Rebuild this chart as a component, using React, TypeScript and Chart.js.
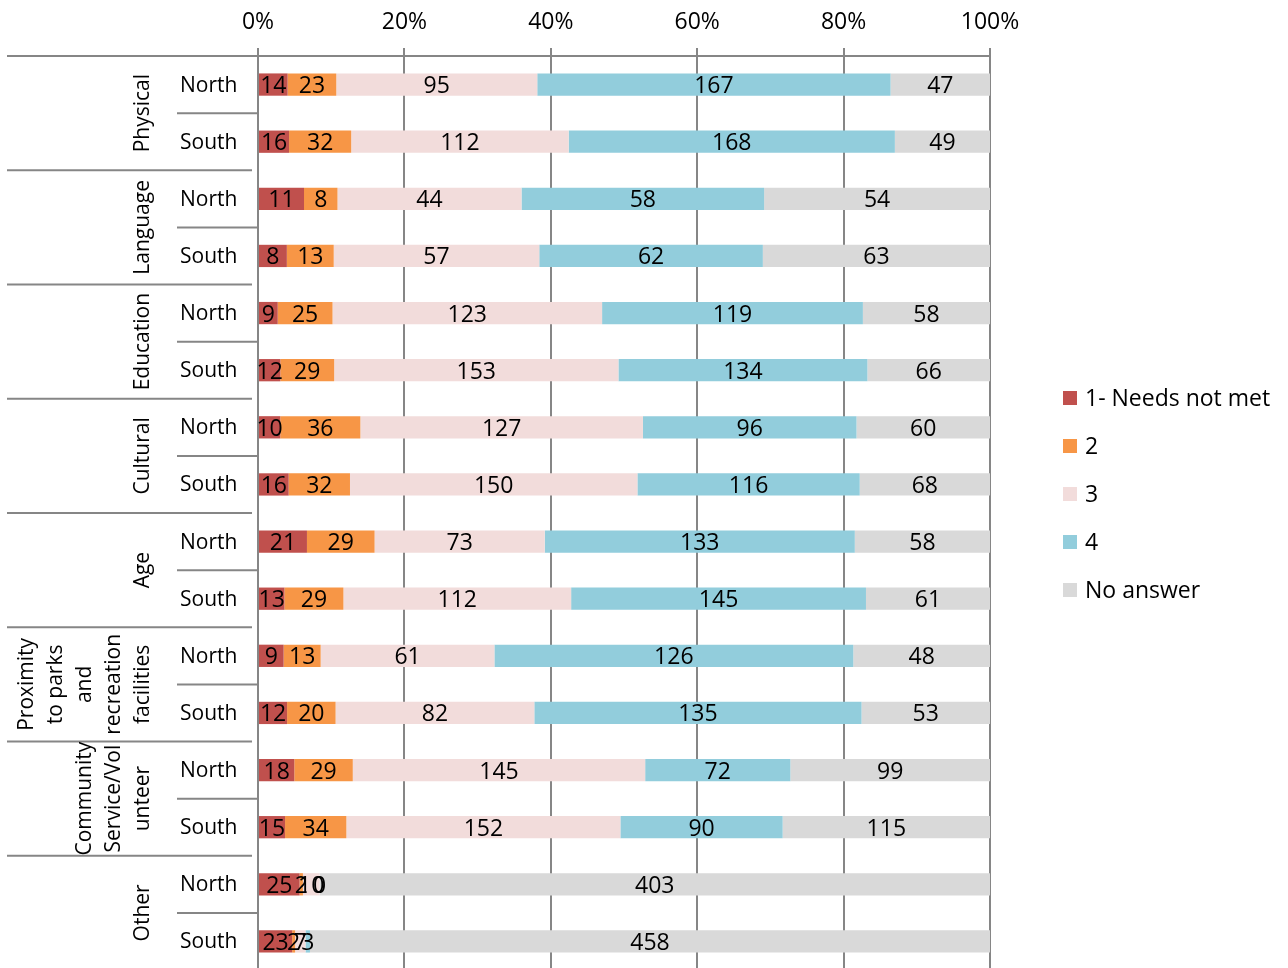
import React, { useEffect, useRef } from "react";
import { Chart, registerables } from "chart.js";

Chart.register(...registerables);

const groupLines: string[][] = [
  ["Physical"],
  ["Language"],
  ["Education"],
  ["Cultural"],
  ["Age"],
  ["Proximity", "to parks", "and", "recreation", "facilities"],
  ["Community", "Service/Vol", "unteer"],
  ["Other"],
];
const regions = ["North", "South"];
const seriesNames = ["1- Needs not met", "2", "3", "4", "No answer"];
const seriesColors = ["#C0504D", "#F79646", "#F2DCDB", "#92CDDC", "#D9D9D9"];

const needsNotMet = [14, 16, 11, 8, 9, 12, 10, 16, 21, 13, 9, 12, 18, 15, 25, 23];
const level2 = [23, 32, 8, 13, 25, 29, 36, 32, 29, 29, 13, 20, 29, 34, 2, 2];
const level3 = [95, 112, 44, 57, 123, 153, 127, 150, 73, 112, 61, 82, 145, 152, 10, 7];
const level4 = [167, 168, 58, 62, 119, 134, 96, 116, 133, 145, 126, 135, 72, 90, 0, 3];
const noAnswer = [47, 49, 54, 63, 58, 66, 60, 68, 58, 61, 48, 53, 99, 115, 403, 458];

const xTickValues = [0, 20, 40, 60, 80, 100];

const FONT = "'Open Sans', sans-serif";
const LINE = "#868686";

export default function App() {
  const ref = useRef<HTMLCanvasElement | null>(null);

  useEffect(() => {
    const canvas = ref.current;
    if (!canvas) return;
    const raw = [needsNotMet, level2, level3, level4, noAnswer];
    const totals = needsNotMet.map((_, i) => raw.reduce((s, arr) => s + arr[i], 0));
    const rowLabels: string[] = [];
    groupLines.forEach((g) => regions.forEach((r) => rowLabels.push(g.join(" ") + " " + r)));

    const labelsPlugin = {
      id: "customLabels",
      afterDatasetsDraw(chart: any) {
        const ctx = chart.ctx;
        ctx.save();
        ctx.fillStyle = "#000";
        ctx.font = `23px ${FONT}`;
        ctx.textAlign = "center";
        ctx.textBaseline = "middle";
        chart.data.datasets.forEach((ds: any, i: number) => {
          const meta = chart.getDatasetMeta(i);
          meta.data.forEach((bar: any, j: number) => {
            const p = bar.getProps(["x", "y", "base"], true);
            ctx.fillText(String(raw[i][j]), (p.x + p.base) / 2, p.y + 2);
          });
        });
        ctx.restore();
      },
      afterDraw(chart: any) {
        const ctx = chart.ctx;
        const y = chart.scales.y;
        const left = chart.chartArea.left;
        const rowH = y.getPixelForValue(1) - y.getPixelForValue(0);
        ctx.save();
        ctx.strokeStyle = LINE;
        ctx.lineWidth = 2;
        for (let g = 0; g < groupLines.length; g++) {
          const top = y.getPixelForValue(g * 2) - rowH / 2;
          ctx.beginPath();
          ctx.moveTo(7, top);
          ctx.lineTo(g === 0 ? left : left - 6, top);
          ctx.stroke();
          const mid = y.getPixelForValue(g * 2 + 1) - rowH / 2;
          ctx.beginPath();
          ctx.moveTo(177, mid);
          ctx.lineTo(left, mid);
          ctx.stroke();
        }
        ctx.fillStyle = "#000";
        ctx.font = `21px ${FONT}`;
        ctx.textAlign = "left";
        ctx.textBaseline = "middle";
        rowLabels.forEach((_, i) => {
          ctx.fillText(regions[i % 2], 180, y.getPixelForValue(i) + 1);
        });
        ctx.textAlign = "center";
        groupLines.forEach((lines, g) => {
          const yc = (y.getPixelForValue(g * 2) + y.getPixelForValue(g * 2 + 1)) / 2;
          const n = lines.length;
          lines.forEach((ln, k) => {
            const xc = 143 - (n - 1 - k) * 29;
            ctx.save();
            ctx.translate(xc, yc);
            ctx.rotate(-Math.PI / 2);
            ctx.fillText(ln, 0, 0);
            ctx.restore();
          });
        });
        ctx.textAlign = "left";
        ctx.font = `23px ${FONT}`;
        seriesNames.forEach((name, i) => {
          const cy = 398 + i * 48;
          ctx.fillStyle = seriesColors[i];
          ctx.fillRect(1063, cy - 7, 14, 14);
          ctx.fillStyle = "#000";
          ctx.fillText(name, 1085, cy + 1);
        });
        ctx.restore();
      },
    };

    const chart = new Chart(canvas, {
      type: "bar",
      data: {
        labels: rowLabels,
        datasets: raw.map((arr, i) => ({
          label: seriesNames[i],
          data: arr.map((v, j) => (v / totals[j]) * 100),
          backgroundColor: seriesColors[i],
          borderWidth: 0,
          categoryPercentage: 1,
          barPercentage: 0.39,
        })),
      },
      options: {
        indexAxis: "y",
        animation: false,
        responsive: false,
        devicePixelRatio: 1,
        layout: { padding: { left: 258, right: 298, top: 0, bottom: 0 } },
        plugins: { legend: { display: false }, tooltip: { enabled: false } },
        scales: {
          x: {
            type: "linear",
            position: "top",
            stacked: true,
            min: 0,
            max: 100,
            afterBuildTicks: (scale: any) => {
              scale.ticks = xTickValues.map((v) => ({ value: v }));
            },
            afterFit: (scale: any) => {
              scale.height = 56;
            },
            ticks: {
              callback: (v: any) => v + "%",
              color: "#000",
              font: { family: "'Open Sans', sans-serif", size: 23 },
              padding: 12,
              maxRotation: 0,
            },
            grid: { color: LINE, lineWidth: 2, tickLength: 8, drawTicks: true },
            border: { display: true, color: LINE, width: 2 },
          },
          y: {
            type: "category",
            stacked: true,
            display: false,
          },
        },
      },
      plugins: [labelsPlugin],
    } as any);

    return () => chart.destroy();
  }, []);

  return (
    <div style={{ position: "fixed", left: 0, top: 0, width: 1288, height: 968, overflow: "hidden", background: "#fff" }}>
      <canvas ref={ref} width={1288} height={970} style={{ display: "block" }} />
    </div>
  );
}
